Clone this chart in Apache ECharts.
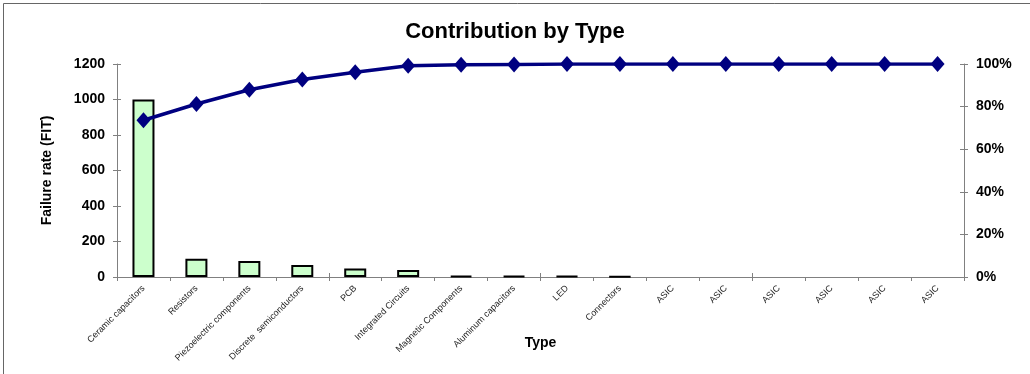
<!DOCTYPE html>
<html>
<head>
<meta charset="utf-8">
<script src="https://cdn.jsdelivr.net/npm/echarts@6/dist/echarts.min.js"></script>
<style>
  html, body { margin: 0; padding: 0; background: #fff; }
  #chart { width: 1030px; height: 374px; }
</style>
</head>
<body>
<div id="chart"></div>
<script>
// Component types, ordered by failure rate
const categories = [
  'Ceramic capacitors', 'Resistors', 'Piezoelectric components', 'Discrete  semiconductors',
  'PCB', 'Integrated Circuits', 'Magnetic Components', 'Aluminum capacitors',
  'LED', 'Connectors', 'ASIC', 'ASIC', 'ASIC', 'ASIC', 'ASIC', 'ASIC'
];
// Failure rate per type (FIT)
const failureRate = [1000, 103, 90, 68, 48, 40, 7, 6, 5, 3, 0, 0, 0, 0, 0, 0];
// Cumulative share of the total failure rate (%)
const cumulativePct = [73.6, 81.2, 87.9, 92.7, 96.1, 99.2, 99.6, 99.8, 100, 100, 100, 100, 100, 100, 100, 100];
// Tick settings
const fitTicks = { min: 0, max: 1200, interval: 200 };
const pctTicks = { min: 0, max: 100, interval: 20 };

const FONT = '"Liberation Sans", Arial, sans-serif';
const AXIS_GRAY = '#808080';

const chart = echarts.init(document.getElementById('chart'), null, { renderer: 'canvas' });

// Ticks that cross the axis line: an outside set on the main axes, an inside set on overlay axes
const hiddenParts = { axisLabel: { show: false }, splitLine: { show: false }, axisLine: { show: false } };

// Zero-rate types get no outline, so nothing is drawn for them
const barData = failureRate.map((v) => (v === 0 ? { value: v, itemStyle: { borderWidth: 0 } } : v));

chart.setOption({
  animation: false,
  backgroundColor: '#fff',
  title: {
    text: 'Contribution by Type',
    left: 'center',
    top: 16,
    textStyle: { fontFamily: FONT, fontSize: 22, fontWeight: 'bold', color: '#000' }
  },
  graphic: [{
    type: 'rect',
    shape: { x: 3.5, y: 3.5, width: 1040, height: 400 },
    style: { fill: 'none', stroke: '#666', lineWidth: 1 },
    silent: true
  }],
  grid: { left: 117, right: 66, top: 64, bottom: 97, outerBoundsMode: 'none', containLabel: false },
  xAxis: [{
    type: 'category',
    data: categories,
    boundaryGap: true,
    name: 'Type',
    nameLocation: 'middle',
    nameGap: 59,
    nameMoveOverlap: false,
    nameTextStyle: { fontFamily: FONT, fontSize: 14, fontWeight: 'bold', color: '#000' },
    axisLine: { lineStyle: { color: AXIS_GRAY, width: 1 } },
    axisTick: { show: true, length: 4, lineStyle: { color: AXIS_GRAY } },
    axisLabel: { rotate: 45, interval: 0, margin: 10, fontFamily: FONT, fontSize: 9, color: '#222' }
  }, {
    type: 'category',
    data: categories,
    position: 'bottom',
    boundaryGap: true,
    axisTick: { show: true, inside: true, length: 4, lineStyle: { color: AXIS_GRAY } },
    ...hiddenParts
  }],
  yAxis: [{
    type: 'value',
    ...fitTicks,
    position: 'left',
    name: 'Failure rate (FIT)',
    nameLocation: 'middle',
    nameGap: 63,
    nameMoveOverlap: false,
    nameTextStyle: { fontFamily: FONT, fontSize: 14, fontWeight: 'bold', color: '#000' },
    axisLine: { show: true, lineStyle: { color: AXIS_GRAY, width: 1 } },
    axisTick: { show: true, length: 4, lineStyle: { color: AXIS_GRAY } },
    axisLabel: { margin: 12, formatter: (v) => String(v), fontFamily: FONT, fontSize: 14, fontWeight: 'bold', color: '#000' },
    splitLine: { show: false }
  }, {
    type: 'value',
    ...pctTicks,
    position: 'right',
    axisLine: { show: true, lineStyle: { color: AXIS_GRAY, width: 1 } },
    axisTick: { show: true, length: 4, lineStyle: { color: AXIS_GRAY } },
    axisLabel: { margin: 12, formatter: '{value}%', fontFamily: FONT, fontSize: 14, fontWeight: 'bold', color: '#000' },
    splitLine: { show: false }
  }, {
    type: 'value',
    ...fitTicks,
    position: 'left',
    axisTick: { show: true, inside: true, length: 4, lineStyle: { color: AXIS_GRAY } },
    ...hiddenParts
  }, {
    type: 'value',
    ...pctTicks,
    position: 'right',
    axisTick: { show: true, inside: true, length: 4, lineStyle: { color: AXIS_GRAY } },
    ...hiddenParts
  }],
  series: [{
    name: 'Failure rate',
    type: 'bar',
    data: barData,
    xAxisIndex: 0,
    yAxisIndex: 0,
    barWidth: 22,
    itemStyle: { color: '#ccffcc', borderColor: '#000', borderWidth: 2 },
    z: 2
  }, {
    name: 'Cumulative',
    type: 'line',
    data: cumulativePct,
    xAxisIndex: 0,
    yAxisIndex: 1,
    symbol: 'diamond',
    symbolSize: [14, 16],
    lineStyle: { color: '#000080', width: 3.5 },
    itemStyle: { color: '#000080' },
    z: 3
  }]
});
</script>
</body>
</html>
